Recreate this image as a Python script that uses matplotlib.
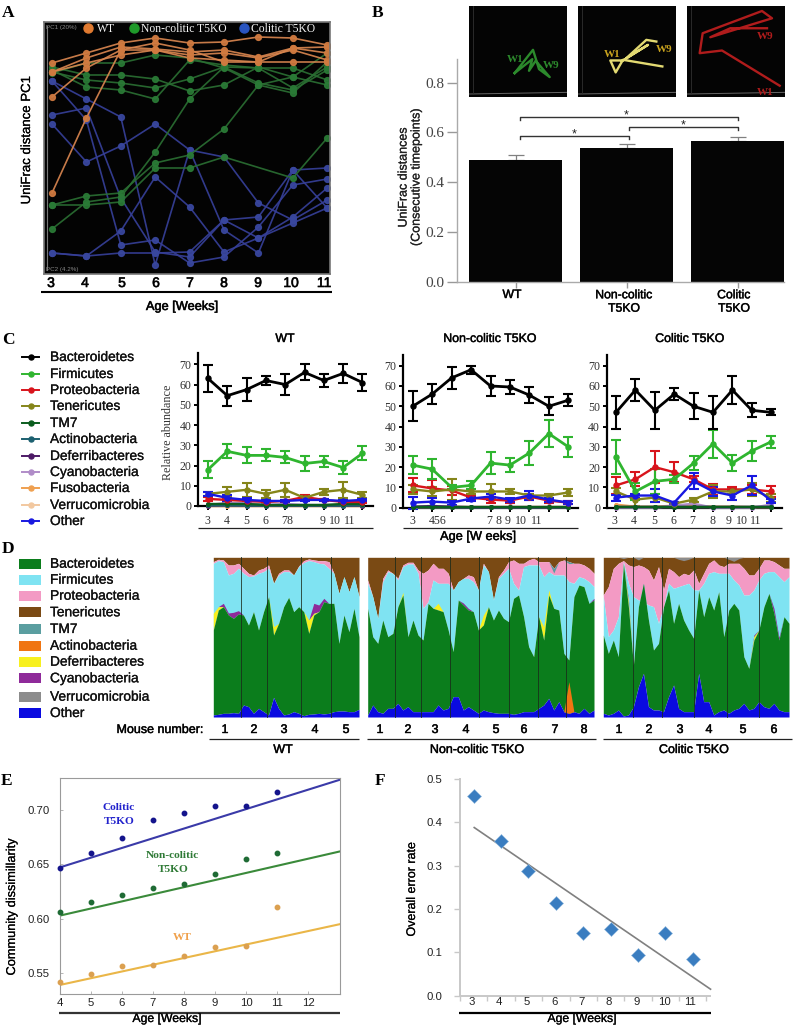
import numpy as np
import matplotlib
matplotlib.use("Agg")
import matplotlib.pyplot as plt
from matplotlib.patheffects import withStroke

SANS = "Liberation Sans"
SERIF = "Liberation Serif"
plt.rcParams["font.family"] = [SANS, "DejaVu Sans"]
W, H = 796, 1028

# ---------- Panel A: PC1 scores per mouse, weeks 3..11 ----------
weeks = [3, 4, 5, 6, 7, 8, 9, 10, 11]
a_wt = [[211, 221, 231, 236, 231, 232, 237, 236, 229],
        [202, 216, 227, 225, 222, 224, 217, 226, 221],
        [177, 206, 224, 224, 219, 221, 216, 224, 214],
        [81, 156, 224, 231, 224, 212, 212, 212, 212],
        [202, 211, 219, 224, 216, 214, 212, 226, 227]]
a_non = [[207, 199, 199, 195, 183, 189, 207, 197, 189],
         [202, 194, 191, 186, 195, 207, 191, 184, 204],
         [204, 187, 184, 175, 214, 209, 206, 206, 194],
         [201, 211, 211, 219, 216, 206, 189, 181, 212],
         [69, 69, 72, 106, 106, 117, np.nan, 96, 136],
         [69, 78, 81, 111, 119, 145, 189, 197, 221],
         [45, 72, 77, 122, 175, 207, 206, 186, 207]]
a_col = [[193, 175, 157, 9, 124, 44, 21, 104, 66],
         [159, 166, 76, 22, 17, 54, 57, 104, 106],
         [150, 112, 128, 150, 124, 117, 71, 54, 74],
         [193, 154, 29, 34, 11, 17, 47, 89, 95],
         [21, 18, 21, 21, 22, 54, 36, 57, 86],
         [21, 18, 43, 97, 67, 22, 36, 51, 66]]

# ---------- Panel B ----------
b_groups = ["WT", "Non-colitic\nT5KO", "Colitic\nT5KO"]
b_vals = [0.488, 0.537, 0.566]
b_errs = [0.023, 0.018, 0.016]
b_traj_wt = [(137, 202), (192, 132), (210, 190), (242, 214), (200, 165), (180, 195), (190, 160), (137, 202)]
b_traj_non = [(253, 182), (135, 162), (113, 200), (97, 164), (135, 164), (210, 117), (145, 157), (205, 102), (235, 107)]
b_traj_col = [(278, 240), (105, 134), (38, 142), (47, 82), (225, 15), (255, 37), (70, 94), (130, 67), (240, 67)]

# ---------- Panel C: mean relative abundance (and SEM) ----------
c_taxa = ["Bacteroidetes", "Firmicutes", "Proteobacteria", "Tenericutes", "TM7", "Actinobacteria",
          "Deferribacteres", "Cyanobacteria", "Fusobacteria", "Verrucomicrobia", "Other"]
c_cols = ["#000000", "#2fb52f", "#d8141c", "#85851a", "#0b5d1e", "#1c6070",
          "#4d1a66", "#b08cc8", "#efa050", "#f2c8a0", "#1818e0"]
wt_bact = [63, 54.5, 57.5, 62, 60, 66, 62, 65.5, 61]
wt_bact_e = [6.5, 5, 5.5, 2, 5, 4, 3, 4.5, 4]
wt_firm = [18, 27, 25, 25, 24, 21, 22, 19, 26]
wt_firm_e = [4, 3.5, 4, 3, 3, 3.5, 2.5, 3, 3.5]
wt_prot = [3.5, 3, 2.5, 2, 2.5, 4.5, 3, 2, 2]
wt_prot_e = [1, 1, 1, .7, .7, 1, .7, .7, .7]
wt_tene = [6, 7, 8, 6, 8, 4, 7, 8, 5.5]
wt_tene_e = [1, 2.5, 3.5, 2, 3.5, 1, 1.5, 4, 1.5]
wt_tm7 = [1, 1, 1, .5, .5, .5, .5, 1, 1]
wt_acti = [.3, .3, .2, .2, .2, .2, .2, .2, .3]
wt_defe = [.2, .3, .2, .2, .2, .2, .2, .2, .2]
wt_cyan = [.5, 1.5, 1.5, .5, 1, .5, .5, .5, .5]
wt_fuso = [.2, .2, .2, .2, .2, .2, .2, .2, .2]
wt_verr = [.2, .2, .2, .2, .2, .2, .2, .2, .2]
wt_othe = [6, 4, 3, 2.5, 2.5, 3, 3, 2.5, 3]
wt_othe_e = [1, 1.5, 1, .6, .6, .6, .6, .6, .6]

non_bact = [50, 56, 64, 68, 60, 59.5, 55.5, 50, 53]
non_bact_e = [7.5, 5, 5.5, 2, 5, 3.5, 4, 4.5, 3]
non_firm = [21, 19, 10, 11, 22, 21, 27, 36.5, 30]
non_firm_e = [4.5, 5, 1, 2, 5.5, 3.5, 6, 6.5, 5]
non_prot = [11, 9.5, 8.5, 5, 4, 3.5, 5.5, 3.5, 2.5]
non_prot_e = [3.5, 4, 2, 1, 1.5, 1, 1.5, 1, .8]
non_tene = [9, 8, 9, 8, 8, 8, 6, 6, 7.5]
non_tene_e = [2, 2, 5, 1, 3.5, 1, 1, 1, 1.5]
non_tm7 = [.3, .3, .3, .3, .3, .3, .3, .3, .3]
non_acti = [.3, .3, .2, .2, .2, .2, .2, .2, .2]
non_defe = [.5, .8, .5, .2, .2, .2, .2, .2, .2]
non_cyan = [.2, .2, .2, .2, .2, .2, .2, .2, .2]
non_fuso = [.2, .2, .2, .2, .2, .2, .2, .2, .2]
non_verr = [.2, .2, .2, .2, .2, .2, .2, .2, .2]
non_othe = [2.5, 3, 2.5, 4.5, 5.5, 4, 6, 4, 2.5]
non_othe_e = [3, 2, 1, 1, 1.5, 1, 2, 1, .8]

col_bact = [47, 58, 48, 56, 50, 47, 58, 48, 47]
col_bact_e = [8, 5.5, 9, 3, 6.5, 8, 7, 3.5, 1.5]
col_firm = [25, 8, 13, 14, 22, 31.5, 22, 28, 32.5]
col_firm_e = [8.5, 4, 6, 2, 3.5, 7, 4, 5, 3]
col_prot = [11, 14, 20, 17.5, 14, 9, 9, 9, 8]
col_prot_e = [4, 3.5, 8, 5, 1.5, 2.5, 1, 2, 2.5]
col_tene = [8, 4, 5, 2, 4, 8, 8, 9, 5]
col_tene_e = [1.5, 3, 2, .5, 1, 3, 1, 3, 2]
col_tm7 = [.2, .2, .2, .2, .2, .2, .2, .2, .2]
col_acti = [.2, .2, .2, .2, .2, .2, .2, .2, .2]
col_defe = [.2, .2, .2, .2, .2, .2, .2, .2, .2]
col_cyan = [0, 0, 0, 1, 2, 0, 0, 0, 1.5]
col_fuso = [1.5, .5, .5, 1, 1, .5, .5, .3, .3]
col_verr = [.3, .3, .3, .3, .3, .3, .3, .3, .3]
col_othe = [5, 6, 6, 2.5, 13, 8, 6, 11, 3.5]
col_othe_e = [1.5, 1, 3, .5, 4, 2, 2, 4.5, 1]

c_wt_labels = ["3", "4", "5", "6", "78", "9", "10", "11"]
c_wt_label_px = [207, 227, 246, 265, 287, 323, 335, 350]
c_non_labels = ["3", "456", "7", "8", "9", "10", "11"]
c_non_label_px = [412, 438, 489, 498, 508, 521, 537]
c_col_labels = ["3", "4", "5", "6", "7", "8", "9", "10", "11"]
c_col_label_px = [614, 634, 654, 673, 692, 712, 729, 742, 756]

# ---------- Panel D: cumulative read counts out of 479 per sample ----------
d_colors = {"Bacteroidetes": "#0b7d1c", "Firmicutes": "#7fe3f2", "Proteobacteria": "#f39ac4",
            "Tenericutes": "#7a4a14", "TM7": "#5a9ea0", "Actinobacteria": "#f07512",
            "Deferribacteres": "#f7f01f", "Cyanobacteria": "#8f2a9a",
            "Verrucomicrobia": "#8c8c8c", "Other": "#0a0ae0"}
d_total = 479
dw_other = [6, 8, 11, 11, 13, 11, 36, 31, 11, 26, 16, 6, 59, 26, 6, 9, 16, 11, 4, 8, 9, 11, 9, 11, 16, 18, 18, 16, 16, 23]
dw_bact = [261, 321, 331, 306, 296, 309, 306, 276, 316, 261, 316, 361, 246, 281, 331, 359, 316, 331, 316, 251, 306, 316, 346, 341, 341, 221, 306, 256, 326, 241]
dw_defer = [50, 10, 0, 0, 0, 0, 0, 0, 0, 0, 0, 0, 25, 0, 0, 0, 0, 0, 0, 40, 5, 0, 0, 0, 0, 0, 0, 0, 0, 0]
dw_cyano = [0, 0, 10, 6, 18, 10, 0, 0, 0, 0, 0, 0, 0, 0, 0, 0, 0, 0, 0, 0, 30, 20, 10, 0, 0, 0, 0, 0, 0, 0]
dw_firm = [461, 469, 466, 426, 431, 446, 431, 421, 423, 431, 436, 446, 401, 426, 436, 436, 426, 451, 463, 469, 466, 461, 459, 446, 431, 371, 421, 376, 421, 361]
dw_prot = [466, 473, 471, 456, 456, 461, 446, 431, 426, 441, 446, 456, 401, 431, 441, 441, 426, 453, 469, 474, 471, 469, 469, 466, 431, 371, 421, 376, 421, 361]
dw_div_px = [241.3, 267.3, 300.7, 330.7]

dn_other = [6, 36, 16, 11, 26, 26, 41, 21, 31, 16, 16, 16, 16, 16, 36, 21, 26, 61, 61, 21, 31, 21, 11, 21, 16, 13, 11, 11, 11, 8, 11, 16, 16, 16, 26, 36, 56, 21, 46, 16, 11, 16, 11, 26, 11, 21]
dn_bact = [326, 241, 221, 291, 241, 251, 331, 366, 241, 291, 246, 231, 341, 326, 321, 316, 261, 196, 351, 336, 321, 316, 261, 276, 331, 291, 321, 296, 286, 356, 366, 301, 211, 181, 301, 231, 366, 326, 321, 191, 171, 361, 396, 391, 341, 351]
dn_defer = [0, 0, 0, 0, 0, 0, 0, 8, 0, 0, 0, 0, 0, 0, 20, 0, 0, 0, 0, 0, 0, 0, 0, 30, 0, 0, 0, 0, 0, 0, 0, 0, 0, 0, 0, 40, 15, 0, 0, 0, 0, 0, 0, 0, 0, 0]
dn_cyano = [0, 0, 0, 0, 0, 0, 0, 0, 0, 0, 0, 0, 0, 0, 0, 0, 0, 0, 0, 6, 5, 0, 0, 0, 0, 0, 0, 0, 0, 0, 0, 0, 0, 0, 0, 0, 0, 0, 0, 0, 0, 0, 0, 0, 0, 5]
dn_firm = [401, 361, 296, 406, 436, 431, 411, 451, 459, 459, 431, 326, 346, 411, 401, 401, 401, 381, 406, 416, 416, 406, 381, 456, 436, 351, 416, 431, 446, 401, 381, 451, 456, 456, 456, 421, 436, 426, 426, 426, 406, 401, 421, 416, 406, 391]
dn_prot = [411, 361, 296, 416, 441, 431, 416, 456, 464, 464, 441, 431, 441, 461, 446, 446, 431, 381, 406, 416, 426, 421, 381, 461, 436, 351, 421, 441, 466, 471, 461, 461, 471, 476, 466, 466, 466, 446, 466, 471, 466, 461, 461, 456, 446, 431]
dn_acti = [0] * 40 + [95] + [0] * 5
dn_tm7 = [0] * 36 + [0, 14, 0, 0, 6, 0, 0, 0, 0, 0]
dn_div_px = [395, 420.7, 450, 479.3, 508.7, 537.7, 566]

dc_other = [11, 6, 11, 21, 3, 6, 31, 91, 131, 31, 21, 21, 16, 61, 96, 26, 16, 16, 16, 131, 46, 46, 6, 16, 21, 11, 21, 26, 41, 21, 26, 46, 31, 26, 41, 21, 16, 16]
dc_bact = [246, 191, 231, 181, 461, 331, 156, 331, 401, 291, 201, 221, 331, 381, 281, 341, 291, 261, 236, 381, 301, 361, 321, 376, 241, 321, 341, 321, 181, 146, 231, 261, 331, 371, 311, 231, 301, 281]
dc_defer = [0, 0, 0, 0, 0, 15, 0, 0, 0, 0, 0, 0, 0, 0, 0, 0, 0, 0, 0, 0, 0, 0, 0, 0, 0, 0, 0, 0, 0, 0, 10, 0, 0, 0, 0, 0, 0, 0]
dc_cyano = [0, 0, 0, 0, 0, 8, 0, 0, 0, 0, 0, 0, 0, 0, 0, 0, 0, 0, 0, 0, 0, 0, 0, 0, 0, 0, 0, 0, 0, 0, 5, 0, 0, 0, 15, 8, 0, 0]
dc_firm = [361, 241, 261, 301, 466, 401, 361, 351, 346, 336, 331, 281, 331, 401, 386, 391, 396, 401, 381, 381, 401, 431, 436, 431, 431, 431, 411, 396, 366, 366, 381, 411, 431, 436, 436, 421, 406, 421]
dc_prot = [366, 391, 446, 461, 469, 456, 451, 456, 451, 441, 411, 451, 381, 446, 436, 421, 431, 426, 441, 401, 431, 461, 471, 456, 451, 461, 461, 461, 446, 426, 426, 446, 471, 471, 466, 456, 446, 446]
dc_verr = [0, 0, 0, 0, 4, 0, 0, 8, 0, 0, 0, 0, 0, 0, 0, 6, 10, 6, 0, 0, 0, 0, 0, 0, 0, 6, 12, 4, 0, 0, 0, 0, 0, 0, 0, 0, 0, 0]
dc_div_px = [633.3, 661.7, 694.3, 726.7, 759.3]
d_mouse_wt = ["1", "2", "3", "4", "5"]
d_mouse_non = ["1", "2", "3", "4", "5", "6", "7", "8"]
d_mouse_col = ["1", "2", "3", "4", "5", "6"]
d_mouse_wt_px = [225, 254, 284, 315, 346]
d_mouse_non_px = [380, 408, 435, 466, 496, 524, 555, 584]
d_mouse_col_px = [619, 649, 680, 709, 743, 774]

# ---------- Panel E ----------
e_age = [4, 5, 6, 7, 8, 9, 10, 11]
e_col = [.6464, .6608, .6746, .6905, .6969, .7034, .704, .7168]
e_non = [.6067, .6153, .6215, .6285, .6322, .6414, .6546, .6607]
e_wt = [.5417, .5493, .5570, .5579, .5656, .5744, .5747, .6111]
e_fit_x = [4, 13]
e_fit_col = [.6473, .7276]
e_fit_non = [.6030, .6618]
e_fit_wt = [.5393, .5950]

# ---------- Panel F ----------
f_age = [3, 4, 5, 6, 7, 8, 9, 10, 11]
f_err = [.461, .358, .287, .215, .144, .155, .093, .144, .084]
f_fit_x = [3.02, 11.65]
f_fit_y = [.388, .015]

fig = plt.figure(figsize=(W / 100, H / 100), dpi=100, facecolor="white")


def axpx(l, t, r, b, **kw):
    return fig.add_axes([l / W, 1 - b / H, (r - l) / W, (b - t) / H], **kw)


ov = fig.add_axes([0, 0, 1, 1], zorder=20)
ov.set_xlim(0, W)
ov.set_ylim(H, 0)
ov.axis("off")
ov.patch.set_alpha(0)


def T(x, y, s, size=9, ha="center", va="center", family=SANS, semi=0, **kw):
    t = ov.text(x, y, s, fontsize=size, ha=ha, va=va, family=family, **kw)
    if semi:
        t.set_path_effects([withStroke(linewidth=semi, foreground=kw.get("color", "#222222"))])
    return t


def rule(x0, x1, y, lw=1.0, color="#222222"):
    ov.plot([x0, x1], [y, y], color=color, lw=lw, solid_capstyle="butt")


# panel letters
for lx, ly, s in [(8, 13, "A"), (378, 13, "B"), (8, 340, "C"), (8, 549, "D"), (7, 781, "E"), (380, 781, "F")]:
    T(lx, ly, s, size=12.5, family=SERIF, weight="bold")

# ---------- A ----------
axA = axpx(44, 22, 330, 274, facecolor="#030303")
for group, col, mc in [(a_col, "#363f98", "#39479f"), (a_non, "#2a6e32", "#2a7a36"), (a_wt, "#d8854f", "#d07a40")]:
    for tr in group:
        tr = np.array(tr, float)
        ok = np.isfinite(tr)
        axA.plot(np.array(weeks)[ok], tr[ok], "-o", color=col, mfc=mc, mec=mc, lw=1.2, ms=4.2, alpha=.92)
axA.set_xlim(3 - 8 / 34.4, 3 + 278 / 34.4)
axA.set_ylim(0, 252)
axA.set_xticks([])
axA.set_yticks([])
for s in axA.spines.values():
    s.set_color("#777777")
    s.set_linewidth(1.2)
axA.plot([3 - 5 / 34.4] * 2, [4, 248], color="#777777", lw=.8)
T(46, 27, "PC1 (20%)", size=4.5, ha="left", color="#888888")
T(46, 270, "PC2 (4.2%)", size=4.5, ha="left", color="#888888")
for px, tx, s, c in [(88, 97, "WT", "#e07a30"), (134, 141, "Non-colitic T5KO", "#1f9a2a"), (244, 251, "Colitic T5KO", "#2a55c0")]:
    ov.plot([px], [28], "o", color=c, ms=6.5)
    T(tx, 29, s, size=8.4, ha="left", family=SERIF, color="#f2f2f2")
for w, px in zip(weeks, [51, 85, 122, 156, 190, 224, 258, 291, 324]):
    T(px, 283, str(w), size=10, semi=.5)
rule(41, 332, 292, lw=1.5, color="#000000")
T(182, 307, "Age [Weeks]", size=9.2, semi=.45)
T(27, 140, "UniFrac distance PC1", size=9.5, rotation=90, semi=.2)

# ---------- B ----------
axB = axpx(457, 59, 784, 281.7)
axB.bar(range(3), b_vals, width=93 / 111, color="#050505", zorder=2)
axB.errorbar(range(3), b_vals, yerr=[[0, 0, 0], b_errs], fmt="none", ecolor="#808080", elinewidth=.9, capsize=6, capthick=.9, zorder=1)
axB.set_xlim(-58.5 / 111, 268.5 / 111)
axB.set_ylim(0, 222.7 / 248.75)
axB.set_yticks([0, .2, .4, .6, .8])
axB.set_yticklabels(["0.0", "0.2", "0.4", "0.6", "0.8"], family=SERIF, fontsize=11, color="#444444")
axB.set_xticks(range(3))
axB.set_xticklabels([])
axB.tick_params(axis="y", length=7, width=1, color="#999999", pad=2)
axB.tick_params(axis="x", length=4, width=1, color="#999999")
for s in ["top", "right"]:
    axB.spines[s].set_visible(False)
for s in ["left", "bottom"]:
    axB.spines[s].set_color("#aaaaaa")
    axB.spines[s].set_linewidth(1)
for x0, x1, y in [(.04, 1.02, .587), (1.02, 2.0, .622), (.04, 2.0, .663)]:
    axB.plot([x0, x0, x1, x1], [y - .013, y, y, y - .013], color="#333333", lw=1)
    axB.text((x0 + x1) / 2 - (.02 if x0 < 1 and x1 > 1.5 else 0), y + .005, "*", ha="center", va="center", fontsize=9, color="#222222", family=SANS)
T(512, 295, "WT", size=8.8, semi=.35)
T(624, 302, "Non-colitic\nT5KO", size=8.8, semi=.35, linespacing=1.15)
T(734, 302, "Colitic\nT5KO", size=8.8, semi=.35, linespacing=1.15)
T(410, 177, "UniFrac distances\n(Consecutive timepoints)", size=9, rotation=90, color="#222222", linespacing=1.1, semi=.15)

for box, tr, col, labels in [
    ((469, 567), b_traj_wt, "#2c8a2c", [(139, 162, "W1"), (247, 178, "W9")]),
    ((578, 676), b_traj_non, "#e3da72", [(102, 145, "W1"), (257, 130, "W9")]),
    ((687, 785), b_traj_col, "#b01c1c", [(233, 92, "W9"), (233, 259, "W1")])]:
    ins = axpx(box[0], 6, box[1], 97, facecolor="#040404")
    tr = np.array(tr)
    ins.plot(tr[:, 0], tr[:, 1], color=col, lw=1.7)
    ins.plot([0, 294], [265, 260], color="#666666", lw=.7)
    ins.plot([12, 12], [0, 265], color="#303030", lw=.6)
    for lxx, lyy, s in labels:
        tc = "#c9a31e" if col == "#e3da72" else col
        ins.text(lxx, lyy, s, color=tc, fontsize=8, family=SERIF, weight="bold", ha="center", va="center")
    ins.set_xlim(0, 294)
    ins.set_ylim(274, 0)
    ins.set_xticks([])
    ins.set_yticks([])
    for s in ins.spines.values():
        s.set_visible(False)

# ---------- C ----------
for name, col, y in zip(c_taxa, c_cols, [357, 374, 390, 406, 423, 439, 456, 472, 488, 505, 521]):
    ov.plot([22, 39], [y, y], color=col, lw=1.4)
    ov.plot([30.5], [y], "o", color=col, ms=3.6)
    T(50, y, name, size=9.9, ha="left", color="#111111", semi=.2)

panels_c = [
    (dict(l=198, r=373, t=352.7, b=506, x0=208, dx=19.3, y70=364.3),
     [wt_bact, wt_firm, wt_prot, wt_tene, wt_tm7, wt_acti, wt_defe, wt_cyan, wt_fuso, wt_verr, wt_othe],
     {0: wt_bact_e, 1: wt_firm_e, 2: wt_prot_e, 3: wt_tene_e, 10: wt_othe_e}, c_wt_labels, c_wt_label_px, 521),
    (dict(l=403, r=578, t=355, b=507.7, x0=412.7, dx=19.45, y70=365.7),
     [non_bact, non_firm, non_prot, non_tene, non_tm7, non_acti, non_defe, non_cyan, non_fuso, non_verr, non_othe],
     {0: non_bact_e, 1: non_firm_e, 2: non_prot_e, 3: non_tene_e, 10: non_othe_e}, c_non_labels, c_non_label_px, 521),
    (dict(l=606.7, r=781.7, t=355, b=507.7, x0=616, dx=19.4, y70=365.7),
     [col_bact, col_firm, col_prot, col_tene, col_tm7, col_acti, col_defe, col_cyan, col_fuso, col_verr, col_othe],
     {0: col_bact_e, 1: col_firm_e, 2: col_prot_e, 3: col_tene_e, 10: col_othe_e}, c_col_labels, c_col_label_px, 521),
]
for g, series, errs, labs, labpx, laby in panels_c:
    ax = axpx(g["l"], g["t"], g["r"], g["b"])
    for i in [9, 8, 7, 6, 5, 4, 2, 3, 10, 1, 0]:
        e = errs.get(i)
        lw = 2 if i in (0, 1) else 1.7
        ms = 3.6 if e is not None else 2.6
        ax.errorbar(weeks, series[i], yerr=e, color=c_cols[i], lw=lw, elinewidth=1.5, capsize=3.6, capthick=1.5,
                    marker="o", ms=ms, clip_on=False, zorder=3 + (i == 0))
    ax.set_xlim(3 + (g["l"] - g["x0"]) / g["dx"], 3 + (g["r"] - g["x0"]) / g["dx"])
    scale = (g["b"] - g["y70"]) / 70
    ax.set_ylim(0, (g["b"] - g["t"]) / scale)
    ax.set_xticks(weeks)
    ax.set_xticklabels([])
    ax.set_yticks(range(0, 71, 10))
    ax.set_yticklabels([str(v) for v in range(0, 71, 10)], family=SERIF, fontsize=8.6, color="#333333")
    ax.tick_params(axis="both", length=3.2, width=1.4, color="#000000", pad=1.5)
    for s in ["top", "right"]:
        ax.spines[s].set_visible(False)
    for s in ["left", "bottom"]:
        ax.spines[s].set_linewidth(1.6)
    ax.patch.set_alpha(0)
    for s, px in zip(labs, labpx):
        T(px, laby, s, size=8.6, family=SERIF, color="#333333")
    rule(g["l"], g["r"], 528, lw=.9)
T(285, 339, "WT", size=8.9, semi=.35)
T(490, 339, "Non-colitic T5KO", size=8.9, semi=.35)
T(690, 339, "Colitic T5KO", size=8.9, semi=.35)
T(168, 432, "Relative abundance", size=8.7, rotation=90, family=SERIF, color="#333333")
T(478, 537, "Age [W eeks]", size=9.2, semi=.35)

# ---------- D ----------
for name, y in zip(["Bacteroidetes", "Firmicutes", "Proteobacteria", "Tenericutes", "TM7", "Actinobacteria",
                    "Deferribacteres", "Cyanobacteria", "Verrucomicrobia", "Other"],
                   [563.7, 579.7, 595.7, 612.3, 629, 645.7, 661.7, 678.3, 696.7, 713]):
    ov.add_patch(plt.Rectangle((19, y - 5), 22, 10, color=d_colors[name], lw=0))
    T(50, y, name, size=9.9, ha="left", color="#111111", semi=.2)


def stacked(l, r, other, bact, defer, cyano, firm, prot, dividers, acti=None, tm7=None, verr=None):
    ax = axpx(l, 557.3, r, 717)
    x = np.arange(len(other))
    other = np.array(other)
    bact = np.array(bact)
    defer = np.array(defer)
    cyano = np.array(cyano)
    firm = np.array(firm)
    prot = np.array(prot)
    top = np.full(len(x), d_total)
    ax.fill_between(x, prot, top, color=d_colors["Tenericutes"], lw=0)
    ax.fill_between(x, firm, prot, color=d_colors["Proteobacteria"], lw=0)
    ax.fill_between(x, bact, firm, color=d_colors["Firmicutes"], lw=0)
    ax.fill_between(x, bact + defer, bact + defer + cyano, color=d_colors["Cyanobacteria"], lw=0)
    ax.fill_between(x, bact, bact + defer, color=d_colors["Deferribacteres"], lw=0)
    ax.fill_between(x, other, bact, color=d_colors["Bacteroidetes"], lw=0)
    ax.fill_between(x, 0, other, color=d_colors["Other"], lw=0)
    if acti is not None:
        ax.fill_between(x, other, other + np.array(acti), color=d_colors["Actinobacteria"], lw=0)
    if tm7 is not None:
        ax.fill_between(x, prot - np.array(tm7), prot, color=d_colors["TM7"], lw=0)
    if verr is not None:
        ax.fill_between(x, top - np.array(verr), top, color=d_colors["Verrucomicrobia"], lw=0)
    ax.set_xlim(0, len(x) - 1)
    ax.set_ylim(0, d_total)
    ax.set_xticks([])
    ax.set_yticks([])
    for s in ax.spines.values():
        s.set_visible(False)
    for d in dividers:
        ov.plot([d, d], [557.3, 717], color="#1a2a1a", lw=.7, alpha=.8)


stacked(213.3, 359, dw_other, dw_bact, dw_defer, dw_cyano, dw_firm, dw_prot, dw_div_px)
stacked(367.7, 594, dn_other, dn_bact, dn_defer, dn_cyano, dn_firm, dn_prot, dn_div_px, acti=dn_acti, tm7=dn_tm7)
stacked(603.3, 789, dc_other, dc_bact, dc_defer, dc_cyano, dc_firm, dc_prot, dc_div_px, verr=dc_verr)
T(203, 730, "Mouse number:", size=9, ha="right", semi=.35)
for labs, pxs in [(d_mouse_wt, d_mouse_wt_px), (d_mouse_non, d_mouse_non_px), (d_mouse_col, d_mouse_col_px)]:
    for s, px in zip(labs, pxs):
        T(px, 730, s, size=9, semi=.35)
rule(209, 359, 739, lw=.9)
rule(367, 596, 739, lw=.9)
rule(603, 792, 739, lw=.9)
T(283, 750, "WT", size=9, semi=.35)
T(477, 750, "Non-colitic T5KO", size=9, semi=.35)
T(694, 750, "Colitic T5KO", size=9, semi=.35)

# ---------- E ----------
axE = axpx(60, 778.3, 340, 994.3)
for vals, fit, pc, lc in [(e_col, e_fit_col, "#14148c", "#3a3aa8"), (e_non, e_fit_non, "#1f6b35", "#3a8a3a"), (e_wt, e_fit_wt, "#dba050", "#eab648")]:
    axE.plot(e_fit_x, fit, color=lc, lw=1.5, zorder=2)
    axE.plot(e_age, vals, "o", color=pc, ms=3.2, clip_on=False, zorder=3)
axE.set_xlim(4, 4 + 280 / 31.03)
axE.set_ylim(.5307, .7291)
axE.set_xticks(range(4, 13))
axE.set_yticks([.55, .60, .65, .70])
axE.set_yticklabels(["0.55", "0.60", "0.65", "0.70"], fontsize=8.2, color="#222222")
axE.set_xticklabels([str(v) for v in range(4, 13)], fontsize=8.2, color="#222222")
axE.tick_params(axis="x", direction="in", length=2.5, width=.6, color="#aaaaaa", pad=3)
axE.tick_params(axis="y", direction="in", length=2.5, width=.6, color="#aaaaaa", pad=7.5)
for s in axE.spines.values():
    s.set_color("#9a9a9a")
    s.set_linewidth(.8)
rule(58.7, 340, 1013, lw=1.6, color="#333333")
T(167, 1019, "Age [Weeks]", size=8.8, semi=.25)
T(12, 907, "Community dissimillarity", size=9.2, rotation=90, semi=.15)
T(119, 808, "Colitic", size=8.2, family=SERIF, weight="bold", color="#2222cc")
T(119, 822, "T5KO", size=8.2, family=SERIF, weight="bold", color="#2222cc")
T(172, 855, "Non-colitic", size=8.2, family=SERIF, weight="bold", color="#2f7a36")
T(173, 869, "T5KO", size=8.2, family=SERIF, weight="bold", color="#2f7a36")
T(182, 937, "WT", size=8.2, family=SERIF, weight="bold", color="#f0a04a")

# ---------- F ----------
axF = axpx(460, 779, 710, 995.7)
axF.plot(f_fit_x, f_fit_y, color="#808080", lw=1.2, zorder=2, clip_on=False)
axF.plot(f_age, f_err, "D", color="#3a7dc0", ms=7, mec="#8fb8dc", mew=.4, zorder=3)
axF.set_xlim(3 - 38 / 82.5, 3 + 712 / 82.5)
axF.set_ylim(0, .5)
axF.set_yticks([0, .1, .2, .3, .4, .5])
axF.set_yticklabels(["0.0", "0.1", "0.2", "0.3", "0.4", "0.5"], fontsize=8.2, color="#222222")
axF.set_xticks(np.arange(2.5, 12, 1))
axF.set_xticklabels([])
axF.tick_params(axis="y", length=4, width=1, color="#c8c8c8", pad=9)
axF.tick_params(axis="x", length=3.5, width=1, color="#c8c8c8")
for s in ["top", "right"]:
    axF.spines[s].set_visible(False)
for s in ["left", "bottom"]:
    axF.spines[s].set_color("#c8c8c8")
    axF.spines[s].set_linewidth(1.4)
axF.patch.set_alpha(0)
for w, px in zip(f_age, [472, 499, 527, 555, 582, 609, 637, 664, 690]):
    T(px, 1002, str(w), size=8.2, color="#222222")
rule(459, 711, 1013, lw=1.6, color="#000000")
T(582, 1019, "Age [Weeks]", size=8.8, semi=.2)
T(412, 889, "Overall error rate", size=9, rotation=90, semi=.15)

fig.savefig("out.png", dpi=100, facecolor="white")
